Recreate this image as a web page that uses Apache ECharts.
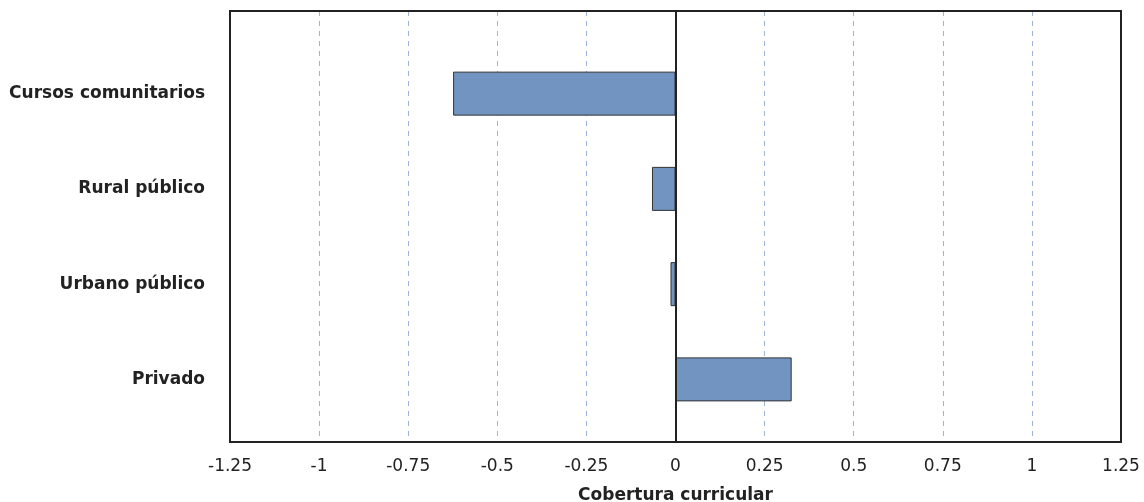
<!DOCTYPE html>
<html>
<head>
<meta charset="utf-8">
<script src="https://cdn.jsdelivr.net/npm/echarts@6/dist/echarts.min.js"></script>
<style>html,body{margin:0;padding:0;background:#fff;}#c{width:1144px;height:502px;}</style>
</head>
<body>
<div id="c"></div>
<script>
const categories = ['Cursos comunitarios', 'Rural público', 'Urbano público', 'Privado'];
const values = [-0.624, -0.066, -0.014, 0.326];
const xMin = -1.25, xMax = 1.25, xStep = 0.25;
const axisName = 'Cobertura curricular';

const font = '"DejaVu Sans", Verdana, sans-serif';
const chart = echarts.init(document.getElementById('c'));
chart.setOption({
  animation: false,
  backgroundColor: '#fff',
  grid: [
    { left: 230, right: 23, top: 11, bottom: 60, containLabel: false, outerBoundsMode: 'none', show: true, z: 10, borderColor: '#222', borderWidth: 2, backgroundColor: 'transparent' },
    { left: 230, right: 23, top: 46, bottom: 75, containLabel: false, outerBoundsMode: 'none' }
  ],
  xAxis: [
    {
      gridIndex: 0, type: 'value', min: xMin, max: xMax, interval: xStep,
      axisLine: { show: false }, axisTick: { show: false },
      axisLabel: { fontFamily: font, fontSize: 17, color: '#222', margin: 16,
        formatter: v => String(Math.round(v * 100) / 100) },
      splitLine: { show: true, lineStyle: { color: '#9fb3d9', type: [5, 5], width: 1 } },
      name: axisName, nameLocation: 'middle', nameGap: 45,
      nameTextStyle: { fontFamily: font, fontSize: 17, fontWeight: 'bold', color: '#222' }
    },
    {
      gridIndex: 1, type: 'value', min: xMin, max: xMax, interval: xStep,
      show: false, splitLine: { show: false }
    }
  ],
  yAxis: [
    {
      gridIndex: 0, type: 'value', min: 0, max: 1, z: 10,
      axisLine: { show: true, onZero: true, lineStyle: { color: '#222', width: 2 } },
      axisTick: { show: false }, axisLabel: { show: false }, splitLine: { show: false }
    },
    {
      gridIndex: 1, type: 'category', data: categories, inverse: true,
      axisLine: { show: false }, axisTick: { show: false },
      axisLabel: { fontFamily: font, fontSize: 17, fontWeight: 'bold', color: '#222', margin: 25 }
    }
  ],
  series: [{
    type: 'bar', xAxisIndex: 1, yAxisIndex: 1, data: values,
    barWidth: 44,
    itemStyle: { color: '#7194c1', borderColor: '#333', borderWidth: 1 }
  }]
});
</script>
</body>
</html>
